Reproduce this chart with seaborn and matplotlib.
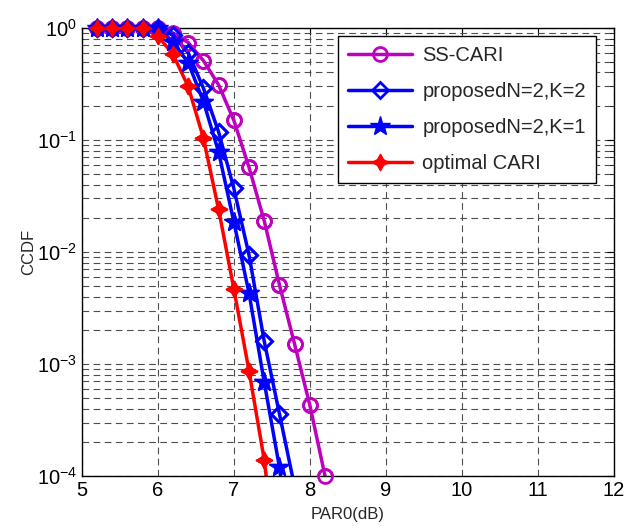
import numpy as np
import pandas as pd
import seaborn as sns
import matplotlib
matplotlib.use("Agg")
import matplotlib.pyplot as plt
from matplotlib.ticker import LogLocator, NullFormatter

############
#   DATA   #
############

par0 = [5.2, 5.4, 5.6, 5.8, 6.0, 6.2, 6.4, 6.6, 6.8, 7.0, 7.2, 7.4, 7.6, 7.8, 8.0, 8.2]

ss_cari = [1.0, 1.0, 1.0, 1.0, 1.0, 0.9, 0.74, 0.51, 0.31, 0.15, 0.057,
           0.019, 0.0051, 0.0015, 0.00043, 0.0001]
prop_k2 = [1.0, 1.0, 1.0, 1.0, 1.0, 0.86, 0.6, 0.29, 0.118, 0.037, 0.0094,
           0.0016, 0.00036, 0.00008, None, None]
prop_k1 = [1.0, 1.0, 1.0, 1.0, 1.0, 0.75, 0.49, 0.22, 0.078, 0.0186, 0.0043,
           0.00069, 0.00012, 0.000012, None, None]
optimal = [0.99, 0.99, 0.99, 0.99, 0.85, 0.58, 0.30, 0.104, 0.024, 0.0047,
           0.00087, 0.00014, 0.00001, None, None, None]

labels = ['SS-CARI', 'proposedN=2,K=2', 'proposedN=2,K=1', 'optimal CARI']
x_ticks = [5, 6, 7, 8, 9, 10, 11, 12]

############
#  STYLE   #
############

sns.set_style("white")
plt.rcParams['font.family'] = ['Liberation Sans', 'DejaVu Sans']
plt.rcParams['mathtext.fontset'] = 'custom'
plt.rcParams['mathtext.rm'] = 'Liberation Sans'

fig = plt.figure(figsize=(6.29, 5.26), dpi=100)
ax = fig.add_axes([0.130, 0.095, 0.846, 0.852])

magenta = '#BF00BF'
blue = '#0000FF'
red = '#FF0000'
styles = [
    dict(color=magenta, marker='o', markersize=10, markerfacecolor='none',
         markeredgecolor=magenta, markeredgewidth=2),
    dict(color=blue, marker='D', markersize=8, markerfacecolor='none',
         markeredgecolor=blue, markeredgewidth=2),
    dict(color=blue, marker='*', markersize=15, markerfacecolor=blue,
         markeredgecolor=blue, markeredgewidth=1),
    dict(color=red, marker=(4, 1, 0), markersize=12, markerfacecolor=red,
         markeredgecolor=red, markeredgewidth=1),
]
series = [ss_cari, prop_k2, prop_k1, optimal]

for vals, lab, st in zip(series, labels, styles):
    df = pd.DataFrame({'PAR0': par0, 'CCDF': vals}).dropna()
    sns.lineplot(data=df, x='PAR0', y='CCDF', ax=ax, label=lab, linewidth=2.5,
                 estimator=None, sort=False, **st)
    # markers on the top edge are not clipped (MATLAB look)
    inside = df[df['CCDF'] >= 1e-4]
    ax.plot(inside['PAR0'], inside['CCDF'], linestyle='none', clip_on=False,
            zorder=3, **st)

ax.set_yscale('log')
ax.set_xlim(5, 12)
ax.set_ylim(1e-4, 1)
ax.set_xticks(x_ticks)
ax.set_xticklabels([str(t) for t in x_ticks])
ax.yaxis.set_major_locator(LogLocator(base=10, numticks=10))
ax.yaxis.set_minor_locator(LogLocator(base=10, subs=np.arange(2, 10), numticks=100))
ax.yaxis.set_minor_formatter(NullFormatter())

# MATLAB style grid
grid_kw = dict(color='0.3', linestyle=(0, (6, 4)), linewidth=0.8)
ax.grid(True, which='major', axis='both', **grid_kw)
ax.grid(True, which='minor', axis='y', **grid_kw)
ax.set_axisbelow(True)

ax.tick_params(axis='both', which='both', direction='in', top=True, right=True,
               labelsize=14.5, colors='black')
ax.tick_params(axis='both', which='major', length=5)
ax.tick_params(axis='y', which='minor', length=3)
for sp in ax.spines.values():
    sp.set_color('black')
    sp.set_linewidth(1.0)

ax.set_xlabel('PAR0(dB)', fontsize=12, labelpad=5)
ax.set_ylabel('CCDF', fontsize=12, labelpad=0)

leg = ax.legend(loc='upper right', fontsize=14.5, frameon=True, fancybox=False,
                edgecolor='black', framealpha=1, borderpad=0.5, labelspacing=0.85,
                handlelength=3.2, handletextpad=0.5, bbox_to_anchor=(0.985, 1.005))
leg.get_frame().set_linewidth(1.0)

fig.savefig('out.png', dpi=100)
